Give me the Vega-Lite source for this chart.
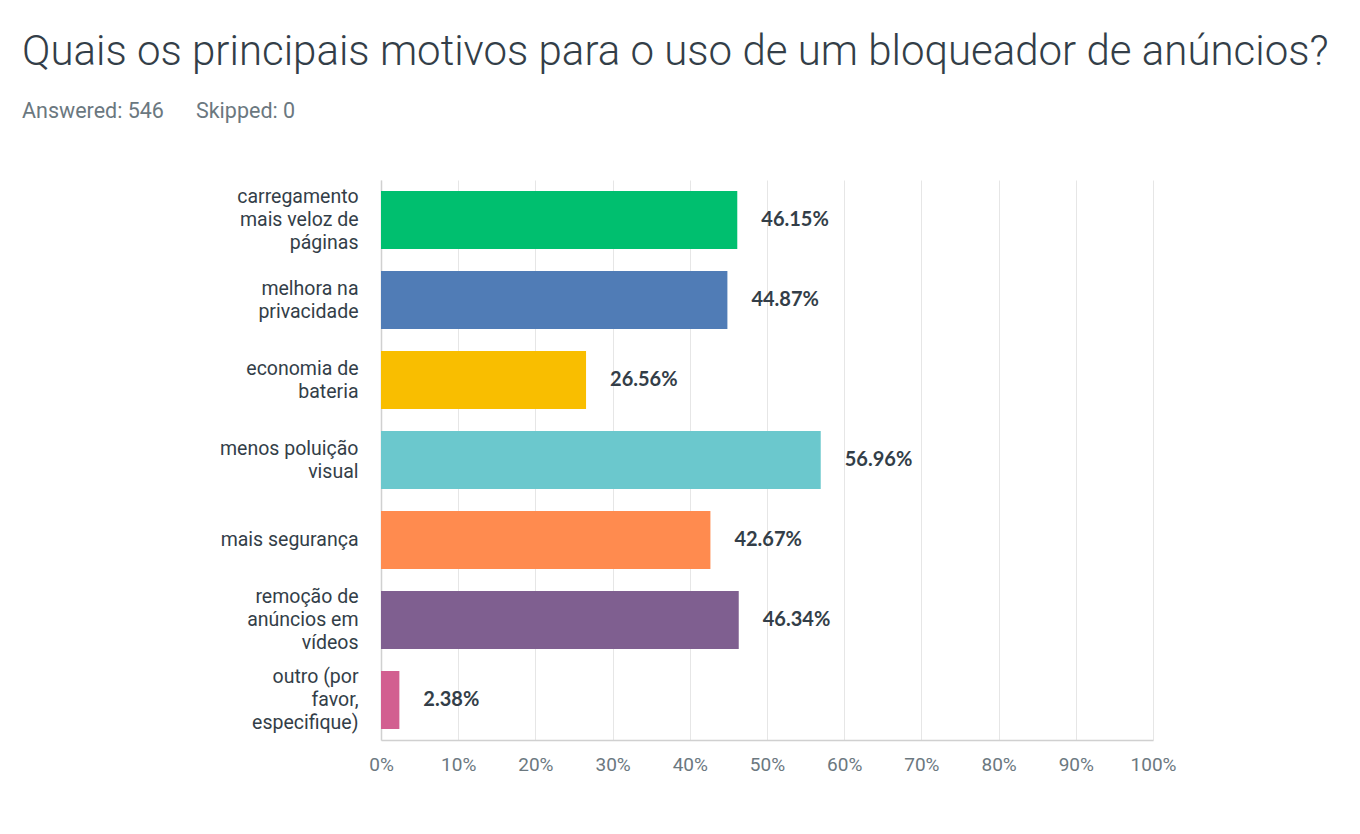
{
  "$schema": "https://vega.github.io/schema/vega-lite/v6.json",
  "autosize": {"type": "none"},
  "width": 772,
  "height": 560,
  "padding": {"left": 381, "top": 180, "right": 207, "bottom": 94},
  "background": "white",
  "title": {
    "text": "Quais os principais motivos para o uso de um bloqueador de anúncios?",
    "subtitle": "Answered: 546\u00a0\u00a0\u00a0\u00a0\u00a0\u00a0Skipped: 0",
    "anchor": "start",
    "frame": "group",
    "dx": -359,
    "offset": 57,
    "font": "Roboto",
    "fontSize": 42,
    "fontWeight": 300,
    "color": "#333e48",
    "subtitleFont": "Roboto",
    "subtitleFontSize": 21.5,
    "subtitleFontWeight": 400,
    "subtitleColor": "#6b787f",
    "subtitlePadding": 27
  },
  "data": {
    "values": [
      {"motivo": "carregamento mais veloz de páginas", "pct": 0.4615, "cor": "#00bf6f"},
      {"motivo": "melhora na privacidade", "pct": 0.4487, "cor": "#507cb6"},
      {"motivo": "economia de bateria", "pct": 0.2656, "cor": "#f9be00"},
      {"motivo": "menos poluição visual", "pct": 0.5696, "cor": "#6bc8cd"},
      {"motivo": "mais segurança", "pct": 0.4267, "cor": "#ff8b4f"},
      {"motivo": "remoção de anúncios em vídeos", "pct": 0.4634, "cor": "#7f5f90"},
      {"motivo": "outro (por favor, especifique)", "pct": 0.0238, "cor": "#d25f90"}
    ]
  },
  "encoding": {
    "y": {
      "field": "motivo",
      "type": "nominal",
      "sort": null,
      "title": null,
      "scale": {"paddingInner": 0.275, "paddingOuter": 0.1375},
      "axis": {
        "labelExpr": "datum.value == 'carregamento mais veloz de páginas' ? ['carregamento', 'mais veloz de', 'páginas'] : datum.value == 'melhora na privacidade' ? ['melhora na', 'privacidade'] : datum.value == 'economia de bateria' ? ['economia de', 'bateria'] : datum.value == 'menos poluição visual' ? ['menos poluição', 'visual'] : datum.value == 'remoção de anúncios em vídeos' ? ['remoção de', 'anúncios em', 'vídeos'] : datum.value == 'outro (por favor, especifique)' ? ['outro (por', 'favor,', 'especifique)'] : datum.value",
        "labelOffset": {
          "condition": [
            {"test": "datum.value == 'carregamento mais veloz de páginas' || datum.value == 'remoção de anúncios em vídeos' || datum.value == 'outro (por favor, especifique)'", "value": -23},
            {"test": "datum.value == 'melhora na privacidade' || datum.value == 'economia de bateria' || datum.value == 'menos poluição visual'", "value": -11.5}
          ],
          "value": 0
        },
        "labelFont": "Roboto",
        "labelFontSize": 19.5,
        "labelFontWeight": 400,
        "labelColor": "#333e48",
        "labelLineHeight": 23,
        "labelPadding": 23,
        "ticks": false,
        "domain": true,
        "domainColor": "#d0d0d0",
        "domainWidth": 1.5,
        "grid": false
      }
    }
  },
  "layer": [
    {
      "mark": {"type": "bar"},
      "encoding": {
        "x": {
          "field": "pct",
          "type": "quantitative",
          "title": null,
          "scale": {"domain": [0, 1], "nice": false},
          "axis": {
            "values": [0, 0.1, 0.2, 0.3, 0.4, 0.5, 0.6, 0.7, 0.8, 0.9, 1],
            "format": ".0%",
            "labelFont": "Roboto",
            "labelFontSize": 19,
            "labelFontWeight": 400,
            "labelColor": "#6b787f",
            "labelPadding": 15,
            "labelFlush": false,
            "ticks": false,
            "domain": true,
            "domainColor": "#d0d0d0",
            "domainWidth": 1.5,
            "grid": true,
            "gridColor": "#e6e6e6",
            "gridWidth": 1
          }
        },
        "color": {"field": "cor", "type": "nominal", "scale": null, "legend": null}
      }
    },
    {
      "mark": {
        "type": "text",
        "align": "left",
        "baseline": "middle",
        "dx": 24,
        "font": "Lato",
        "fontSize": 20,
        "fontWeight": "bold",
        "color": "#333e48"
      },
      "encoding": {
        "x": {"field": "pct", "type": "quantitative"},
        "text": {"field": "pct", "type": "quantitative", "format": ".2%"}
      }
    }
  ],
  "config": {"view": {"stroke": null}}
}
